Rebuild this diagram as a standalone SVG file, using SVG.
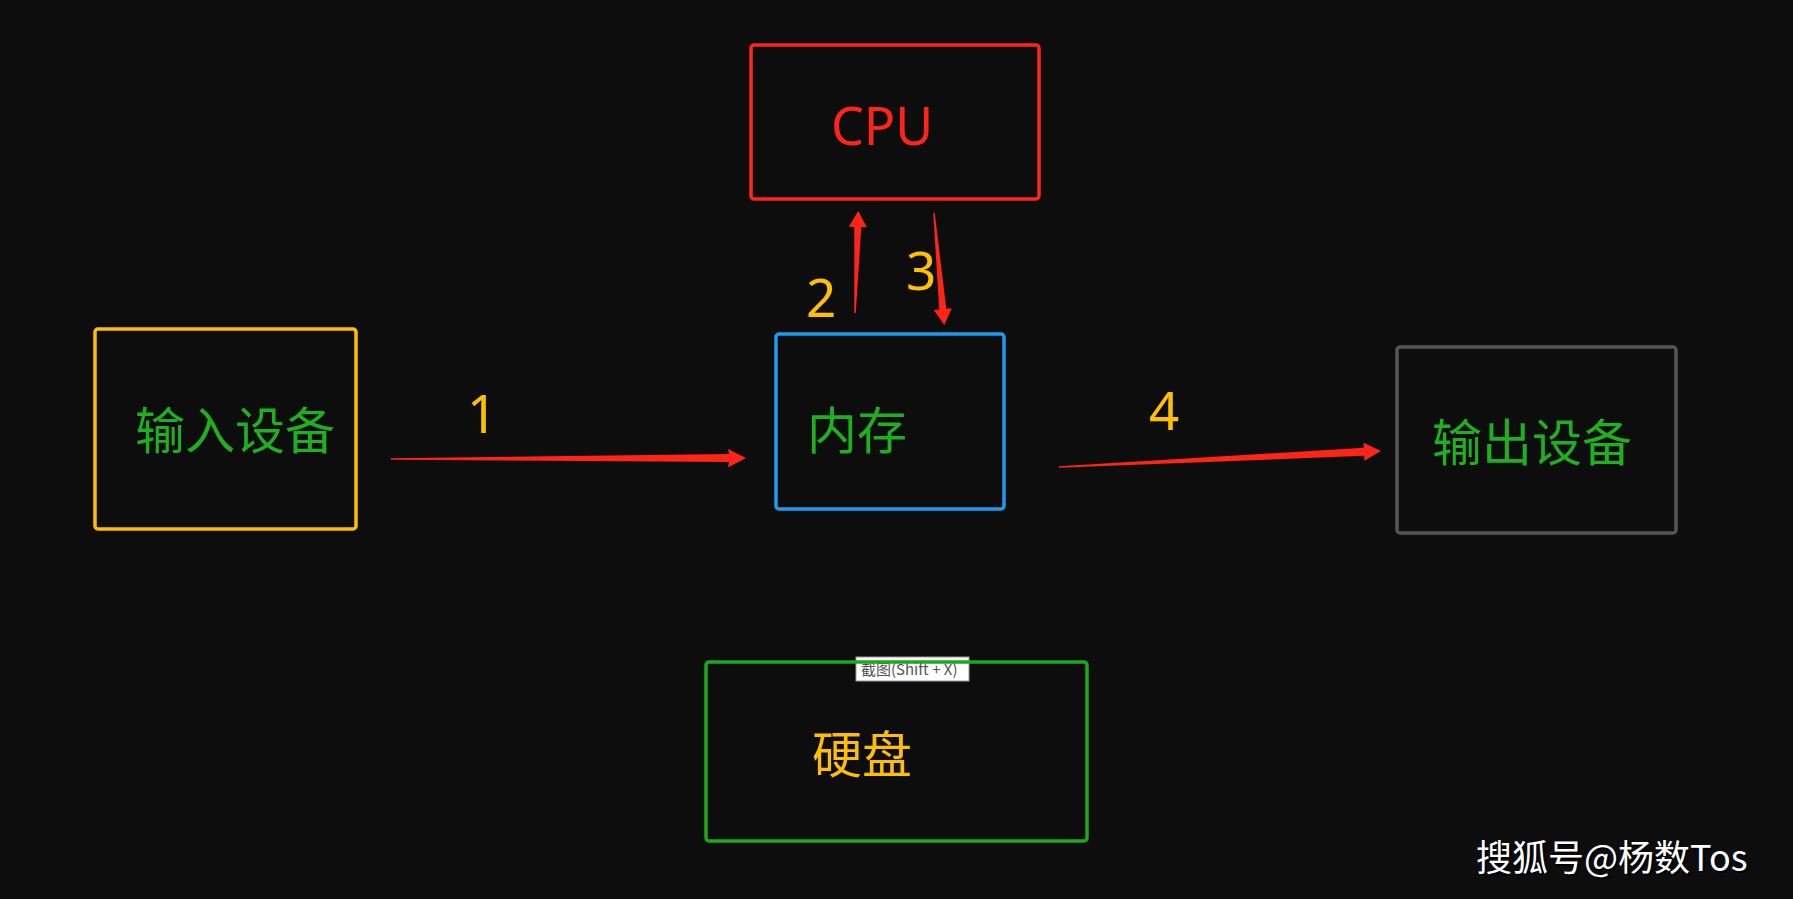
<svg xmlns="http://www.w3.org/2000/svg" width="1793" height="899" viewBox="0 0 1793 899">
<style>
.box{fill:none;stroke-width:3.5;stroke-linejoin:round}
.cjk{font-family:"Noto Sans CJK SC","Noto Sans",sans-serif;font-size:50px}
.num{font-family:"Noto Sans","Noto Sans CJK SC",sans-serif;font-size:53px;fill:#FFC000}
.arrow{fill:#FF2418}
</style>
<rect x="0" y="0" width="1793" height="899" fill="#0d0d0d"/>
<g id="cpu">
<rect class="box" x="751" y="45" width="288" height="154" rx="3" stroke="#FF2418"/>
<text x="831" y="145" font-family="Noto Sans, sans-serif" font-size="52" fill="#FF2418">CPU</text>
</g>
<g id="input">
<rect class="box" x="95" y="329" width="261" height="200" rx="3" stroke="#FFBE00"/>
<text class="cjk" x="135" y="449" fill="#1FB01F">输入设备</text>
</g>
<g id="memory">
<rect class="box" x="776" y="334" width="228" height="175" rx="3" stroke="#1E9BF0"/>
<text class="cjk" x="807" y="449" fill="#1FB01F">内存</text>
</g>
<g id="output">
<rect class="box" x="1397" y="347" width="279" height="186" rx="3" stroke="#555555"/>
<text class="cjk" x="1432" y="461" fill="#1FB01F">输出设备</text>
</g>
<g id="tooltip">
<rect x="856" y="657" width="113" height="24" fill="#ffffff" stroke="#999999" stroke-width="1"/>
<text x="861" y="675" font-family="Noto Sans CJK SC, Noto Sans, sans-serif" font-size="15" fill="#555555">截图(Shift + X)</text>
</g>
<g id="disk">
<rect class="box" x="706" y="662" width="381" height="179" rx="3" stroke="#1DA81D"/>
<text class="cjk" x="812" y="773" fill="#FFBE00">硬盘</text>
</g>
<g id="connectors">
<path class="arrow" d="M391,458.2 L729,454 L728,449 L746,458 L728,467.5 L729,462 L391,459.8 Z"/>
<path class="arrow" d="M854.2,313 L854.3,226.9 L848.8,226.7 L858.3,211 L866.8,227.3 L861.3,227.1 L855.8,313 Z"/>
<path class="arrow" d="M933.2,213.1 L939.3,309.4 L933.8,309.9 L944.3,325 L951.8,308.3 L946.3,308.8 L934.8,212.9 Z"/>
<path class="arrow" d="M1059,466.2 L1363.8,447.8 L1363.6,442.8 L1381,451 L1364.4,460.8 L1364.2,455.8 L1059,467.8 Z"/>
</g>
<g id="labels">
<text class="num" x="467" y="433">1</text>
<text class="num" x="806" y="317">2</text>
<text class="num" x="906" y="290">3</text>
<text class="num" x="1149" y="430">4</text>
</g>
<g id="watermark">
<text x="1478" y="873" font-family="Noto Sans CJK SC, Noto Sans, sans-serif" font-size="36" fill="#000000" opacity="0.8">搜狐号@杨数Tos</text>
<text x="1476" y="871" font-family="Noto Sans CJK SC, Noto Sans, sans-serif" font-size="36" fill="#ffffff">搜狐号@杨数Tos</text>
</g>
</svg>
